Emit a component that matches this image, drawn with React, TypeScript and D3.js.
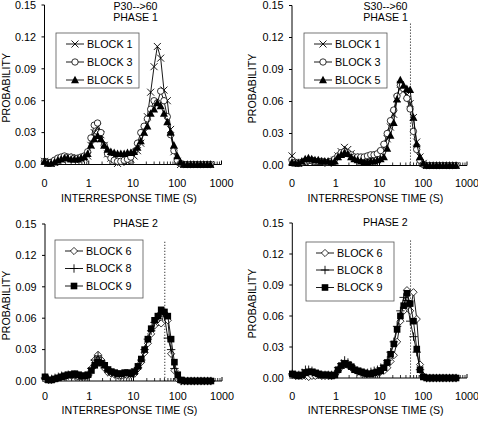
import React from "react";
import * as d3 from "d3";

// IRT bins (s), log-spaced
const X_BINS = [0.1, 0.119, 0.141, 0.168, 0.2, 0.237, 0.282, 0.335, 0.398, 0.473,
  0.562, 0.668, 0.794, 0.944, 1.12, 1.33, 1.58, 1.88, 2.24, 2.66,
  3.16, 3.76, 4.47, 5.31, 6.31, 7.5, 8.91, 10.6, 12.6, 15,
  17.8, 21.1, 25.1, 29.9, 35.5, 42.2, 50.1, 59.6, 70.8, 84.1,
  100, 119, 141, 168, 200, 237, 282, 335, 398, 473, 562];

const X_TICK_VALUES = [0.1, 1, 10, 100, 1000];
const X_TICK_LABELS = ["0", "1", "10", "100", "1000"];
const Y_TICK_VALUES = [0, 0.03, 0.06, 0.09, 0.12, 0.15];
const REF_LINE_X = 51;
const REF_LINE_TOP = 0.133;

// P30-->60 Phase 1
const P1_B1 = [0.003,0.002,0.001,0.002,0.003,0.005,0.006,0.007,0.006,0.005,
  0.006,0.005,0.006,0.008,0.018,0.030,0.035,0.028,0.018,0.010,
  0.006,0.004,0.001,0.002,0.003,0.003,0.005,0.008,0.013,0.020,
  0.030,0.045,0.068,0.092,0.111,0.100,0.070,0.060,0.033,0.012,
  0.003,0,0,0,0,0,0,0,0,0,0];
const P1_B3 = [0.003,0.002,0.002,0.004,0.006,0.007,0.008,0.007,0.007,0.006,
  0.006,0.007,0.008,0.012,0.025,0.037,0.039,0.030,0.018,0.010,
  0.006,0.004,0.003,0.003,0.004,0.005,0.007,0.012,0.020,0.030,
  0.036,0.043,0.052,0.060,0.058,0.069,0.060,0.045,0.028,0.013,
  0.004,0.001,0,0,0,0,0,0,0,0,0];
const P1_B5 = [0.003,0.001,0.001,0.002,0.004,0.005,0.006,0.006,0.005,0.005,
  0.005,0.006,0.007,0.010,0.018,0.024,0.027,0.024,0.018,0.014,
  0.012,0.011,0.010,0.010,0.010,0.011,0.011,0.012,0.016,0.022,
  0.030,0.036,0.048,0.052,0.058,0.055,0.048,0.040,0.030,0.018,
  0.008,0.002,0,0,0,0,0,0,0,0,0];

// S30-->60 Phase 1
const S1_B1 = [0.009,0.003,0.002,0.003,0.003,0.004,0.004,0.003,0.003,0.003,
  0.003,0.002,0.003,0.005,0.009,0.013,0.017,0.015,0.011,0.008,
  0.007,0.006,0.006,0.007,0.008,0.009,0.010,0.012,0.017,0.025,
  0.036,0.048,0.063,0.076,0.070,0.066,0.058,0.045,0.022,0.008,
  0.002,0,0,0,0,0,0,0,0,0,0];
const S1_B3 = [0.005,0.003,0.002,0.003,0.004,0.005,0.005,0.004,0.004,0.004,
  0.003,0.003,0.004,0.006,0.009,0.012,0.013,0.012,0.010,0.008,
  0.008,0.008,0.008,0.009,0.010,0.010,0.011,0.014,0.020,0.030,
  0.042,0.052,0.065,0.075,0.072,0.063,0.053,0.032,0.015,0.005,
  0.001,0,0,0,0,0,0,0,0,0,0];
const S1_B5 = [0.003,0.002,0.002,0.004,0.006,0.007,0.006,0.005,0.005,0.004,
  0.004,0.004,0.003,0.004,0.008,0.010,0.012,0.011,0.008,0.006,
  0.005,0.004,0.003,0.003,0.004,0.004,0.005,0.006,0.008,0.016,
  0.028,0.040,0.062,0.080,0.075,0.072,0.071,0.045,0.020,0.008,
  0.002,0,0,0,0,0,0,0,0,0,0];

// P30-->60 Phase 2
const P2_B6 = [0.002,0.001,0.001,0.002,0.003,0.004,0.004,0.005,0.005,0.005,
  0.004,0.004,0.004,0.005,0.012,0.020,0.025,0.020,0.012,0.008,
  0.007,0.006,0.005,0.005,0.006,0.006,0.006,0.007,0.012,0.018,
  0.027,0.036,0.045,0.053,0.056,0.055,0.065,0.058,0.026,0.010,
  0.002,0,0,0,0,0,0,0,0,0,0];
const P2_B8 = [0.003,0.002,0.002,0.003,0.004,0.005,0.005,0.006,0.006,0.006,
  0.005,0.005,0.005,0.006,0.012,0.020,0.024,0.019,0.013,0.010,
  0.008,0.007,0.006,0.006,0.007,0.007,0.008,0.009,0.013,0.020,
  0.030,0.040,0.048,0.056,0.060,0.065,0.062,0.041,0.030,0.012,
  0.002,0,0,0,0,0,0,0,0,0,0];
const P2_B9 = [0.004,0.001,0.001,0.002,0.003,0.004,0.005,0.006,0.006,0.007,
  0.006,0.005,0.005,0.006,0.010,0.015,0.018,0.017,0.015,0.011,
  0.009,0.008,0.007,0.007,0.008,0.008,0.007,0.009,0.014,0.021,
  0.030,0.040,0.050,0.058,0.062,0.068,0.066,0.062,0.040,0.018,
  0.006,0.001,0,0,0,0,0,0,0,0,0];

// S30-->60 Phase 2
const S2_B6 = [0.003,0.002,0.002,0.002,0.002,0.001,0.002,0.002,0.003,0.002,
  0.002,0.002,0.002,0.003,0.007,0.011,0.013,0.012,0.010,0.008,
  0.006,0.005,0.004,0.004,0.004,0.004,0.005,0.006,0.007,0.010,
  0.016,0.022,0.035,0.055,0.065,0.085,0.065,0.083,0.057,0.013,
  0.002,0,0,0,0,0,0,0,0,0,0];
const S2_B8 = [0.004,0.003,0.003,0.005,0.008,0.008,0.007,0.005,0.004,0.003,
  0.003,0.003,0.003,0.004,0.010,0.014,0.017,0.015,0.012,0.009,
  0.007,0.006,0.005,0.005,0.006,0.007,0.008,0.010,0.012,0.017,
  0.025,0.035,0.050,0.065,0.078,0.075,0.055,0.040,0.025,0.008,
  0.002,0,0,0,0,0,0,0,0,0,0];
const S2_B9 = [0.004,0.003,0.002,0.003,0.005,0.006,0.006,0.005,0.004,0.003,
  0.003,0.003,0.002,0.003,0.008,0.012,0.014,0.013,0.011,0.008,
  0.007,0.006,0.005,0.004,0.004,0.005,0.006,0.007,0.010,0.015,
  0.023,0.033,0.047,0.060,0.070,0.082,0.072,0.055,0.028,0.008,
  0.001,0,0,0,0,0,0,0,0,0,0];

type Series = { label: string; marker: string; values: number[] };

const FONT = "'Liberation Sans', Arial, Helvetica, sans-serif";

function Marker({ type, x, y }: { type: string; x: number; y: number }) {
  const t = `translate(${x},${y})`;
  switch (type) {
    case "x":
      return <path transform={t} d="M-3.5,-3.5L3.5,3.5M-3.5,3.5L3.5,-3.5" stroke="#000" strokeWidth={0.9} fill="none" />;
    case "circle":
      return <circle cx={x} cy={y} r={3.2} fill="#fff" stroke="#000" strokeWidth={0.8} />;
    case "triangle":
      return <path transform={t} d="M0,-4.3L4,3.2L-4,3.2Z" fill="#000" />;
    case "diamond":
      return <path transform={t} d="M0,-3.6L3.6,0L0,3.6L-3.6,0Z" fill="#fff" stroke="#000" strokeWidth={0.8} />;
    case "plus":
      return <path transform={t} d="M-4.2,0L4.2,0M0,-4.2L0,4.2" stroke="#000" strokeWidth={0.9} fill="none" />;
    case "square":
      return <rect x={x - 3.3} y={y - 3.3} width={6.6} height={6.6} fill="#000" />;
  }
  return null;
}

type PanelProps = {
  x0: number; x1: number; yTop: number; yBot: number;
  titles: string[]; titleX: number; titleY: number[];
  series: Series[]; refLine: boolean;
  legend: { x: number; y: number; w: number; h: number; rowY: number[] };
  yLabelX: number; tickBase: number; titleBase: number;
};

function Panel(p: PanelProps) {
  const xs = d3.scaleLog().domain([0.1, 1000]).range([p.x0, p.x1]);
  const ys = d3.scaleLinear().domain([0, 0.15]).range([p.yBot, p.yTop]);
  const line = d3.line<number>().x((_, i) => xs(X_BINS[i])).y((v) => ys(v));
  const minor: number[] = [];
  [0.1, 1, 10, 100].forEach((d) => { for (let m = 2; m <= 9; m++) minor.push(d * m); });
  const fmt = d3.format(".2f");
  const midX = (p.x0 + p.x1) / 2 - 4;
  const midY = (p.yTop + p.yBot) / 2 + 3;
  return (
    <g fontFamily={FONT} fill="#000">
      {p.titles.map((t, i) => (
        <text key={t} x={p.titleX} y={p.titleY[i]} textAnchor="middle" fontSize={10.6}>{t}</text>
      ))}
      {/* y axis */}
      <line x1={p.x0} x2={p.x0} y1={p.yTop} y2={p.yBot} stroke="#000" strokeWidth={1} />
      {Y_TICK_VALUES.map((v) => (
        <g key={v}>
          <line x1={p.x0 - 3} x2={p.x0} y1={ys(v)} y2={ys(v)} stroke="#000" />
          <text x={p.x0 - 8.5} y={ys(v) + 3.8} textAnchor="end" fontSize={10.8}>{fmt(v)}</text>
        </g>
      ))}
      {/* x axis */}
      <line x1={p.x0} x2={p.x1} y1={p.yBot} y2={p.yBot} stroke="#000" strokeWidth={1} />
      {minor.map((v) => (
        <line key={v} x1={xs(v)} x2={xs(v)} y1={p.yBot} y2={p.yBot - 3} stroke="#000" strokeWidth={0.8} />
      ))}
      {X_TICK_VALUES.map((v, i) => (
        <g key={v}>
          <line x1={xs(v)} x2={xs(v)} y1={p.yBot} y2={p.yBot - 4} stroke="#000" />
          <text x={xs(v)} y={p.tickBase} textAnchor="middle" fontSize={10.8}>{X_TICK_LABELS[i]}</text>
        </g>
      ))}
      <text x={midX} y={p.titleBase} textAnchor="middle" fontSize={10.6}>INTERRESPONSE TIME (S)</text>
      <text transform={`translate(${p.yLabelX},${midY}) rotate(-90)`} textAnchor="middle" fontSize={10.6}>PROBABILITY</text>
      {p.refLine && (
        <line x1={xs(REF_LINE_X)} x2={xs(REF_LINE_X)} y1={ys(REF_LINE_TOP)} y2={p.yBot}
          stroke="#000" strokeWidth={1} strokeDasharray="1,2" />
      )}
      {p.series.map((s) => (
        <g key={s.label}>
          <path d={line(s.values) || ""} fill="none" stroke="#000" strokeWidth={0.9} />
          {s.values.map((v, i) => <Marker key={i} type={s.marker} x={xs(X_BINS[i])} y={ys(v)} />)}
        </g>
      ))}
      {/* legend */}
      <rect x={p.legend.x} y={p.legend.y} width={p.legend.w} height={p.legend.h} fill="#fff" stroke="#555" strokeWidth={0.8} />
      {p.series.map((s, i) => {
        const ry = p.legend.rowY[i];
        const lx = p.legend.x + 10;
        return (
          <g key={s.label}>
            <line x1={lx} x2={lx + 18} y1={ry} y2={ry} stroke="#000" strokeWidth={0.9} />
            <Marker type={s.marker} x={lx + 9} y={ry} />
            <text x={lx + 21} y={ry + 3.9} fontSize={10.8}>{s.label}</text>
          </g>
        );
      })}
    </g>
  );
}

export default function App() {
  const phase1 = (a: number[], b: number[], c: number[]): Series[] => [
    { label: "BLOCK 1", marker: "x", values: a },
    { label: "BLOCK 3", marker: "circle", values: b },
    { label: "BLOCK 5", marker: "triangle", values: c },
  ];
  const phase2 = (a: number[], b: number[], c: number[]): Series[] => [
    { label: "BLOCK 6", marker: "diamond", values: a },
    { label: "BLOCK 8", marker: "plus", values: b },
    { label: "BLOCK 9", marker: "square", values: c },
  ];
  return (
    <svg width={478} height={421} style={{ position: "absolute", left: 0, top: 0, background: "#fff" }}>
      <Panel x0={44.5} x1={221.5} yTop={5} yBot={164.5}
        titles={["P30-->60", "PHASE 1"]} titleX={135.5} titleY={[9.5, 21.2]}
        series={phase1(P1_B1, P1_B3, P1_B5)} refLine={false}
        legend={{ x: 56, y: 33, w: 83, h: 55, rowY: [44, 62, 80] }}
        yLabelX={10} tickBase={187} titleBase={202} />
      <Panel x0={292} x1={467} yTop={5.5} yBot={165.5}
        titles={["S30-->60", "PHASE 1"]} titleX={385.5} titleY={[9.5, 21.2]}
        series={phase1(S1_B1, S1_B3, S1_B5)} refLine={true}
        legend={{ x: 304, y: 33, w: 83, h: 55, rowY: [44, 62, 80] }}
        yLabelX={256} tickBase={187} titleBase={202} />
      <Panel x0={45} x1={222} yTop={224} yBot={381}
        titles={["PHASE 2"]} titleX={135.5} titleY={[226.5]}
        series={phase2(P2_B6, P2_B8, P2_B9)} refLine={true}
        legend={{ x: 55, y: 240, w: 88, h: 58, rowY: [251, 268.5, 286] }}
        yLabelX={10} tickBase={400} titleBase={414} />
      <Panel x0={292.3} x1={467} yTop={223} yBot={378}
        titles={["PHASE 2"]} titleX={385.3} titleY={[226]}
        series={phase2(S2_B6, S2_B8, S2_B9)} refLine={true}
        legend={{ x: 306, y: 242, w: 88, h: 59, rowY: [253, 270, 287.5] }}
        yLabelX={256} tickBase={400} titleBase={414} />
    </svg>
  );
}
